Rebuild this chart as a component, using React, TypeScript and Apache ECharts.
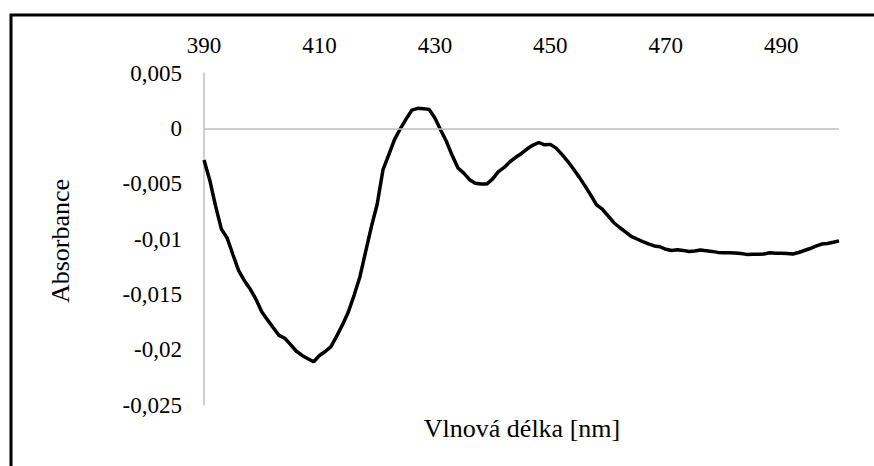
import React, { useEffect, useRef } from "react";
import * as echarts from "echarts";

const wavelengths: number[] = [];
for (let nm = 390; nm <= 500; nm++) wavelengths.push(nm);

const absorbance: number[] = [
  -0.00286, -0.00469, -0.00701, -0.00909, -0.0099, -0.0114, -0.01285, -0.01377, -0.01452, -0.01544,
  -0.01657, -0.01731, -0.01802, -0.01871, -0.01897, -0.01955, -0.02014, -0.02052, -0.02082, -0.02109,
  -0.02053, -0.02017, -0.01972, -0.01876, -0.01774, -0.0166, -0.01509, -0.01343, -0.01115, -0.00888,
  -0.00686, -0.00376, -0.0024, -0.00102, -0.00004, 0.00083, 0.00165, 0.00181, 0.00178, 0.0017,
  0.00093, -0.00015, -0.00119, -0.00246, -0.00358, -0.00405, -0.00464, -0.00496, -0.00503, -0.00503,
  -0.00457, -0.00391, -0.00353, -0.00302, -0.00262, -0.00227, -0.00185, -0.00151, -0.00128, -0.00149,
  -0.00145, -0.00179, -0.00235, -0.00298, -0.00368, -0.00441, -0.0052, -0.00604, -0.00691, -0.00731,
  -0.00791, -0.00853, -0.00896, -0.00935, -0.00976, -0.01, -0.01023, -0.01044, -0.01063, -0.0107,
  -0.01093, -0.01104, -0.01097, -0.01103, -0.01113, -0.01108, -0.011, -0.01106, -0.01112, -0.01121,
  -0.01124, -0.01124, -0.01126, -0.01132, -0.01139, -0.01138, -0.01137, -0.01135, -0.01125, -0.01129,
  -0.01128, -0.0113, -0.01135, -0.01122, -0.01104, -0.01086, -0.01065, -0.01046, -0.0104, -0.0103,
  -0.01017,
];

const yMin = -0.025;
const yMax = 0.005;
const yStep = 0.005;

const xTitle = "Vlnová délka [nm]";
const yTitle = "Absorbance";

const FONT = "Liberation Serif";

export default function App() {
  const ref = useRef<HTMLDivElement>(null);
  useEffect(() => {
    if (!ref.current) return;
    const chart = echarts.init(ref.current, null, { renderer: "svg" });
    chart.setOption({
      animation: false,
      backgroundColor: "#ffffff",
      textStyle: { fontFamily: FONT, color: "#000" },
      grid: { left: 204, right: 35, top: 73, bottom: 61 },
      xAxis: {
        type: "category",
        data: wavelengths.map(String),
        boundaryGap: false,
        position: "top",
        axisLine: { show: false, onZero: false },
        axisTick: { show: false },
        splitLine: { show: false },
        axisLabel: {
          interval: 19,
          color: "#000",
          fontFamily: FONT,
          fontSize: 23,
          margin: 16,
        },
      },
      yAxis: {
        type: "value",
        min: yMin,
        max: yMax,
        interval: yStep,
        axisLine: { show: true, lineStyle: { color: "#bfbfbf", width: 1.5 } },
        axisTick: { show: false },
        splitLine: { show: false },
        axisLabel: {
          color: "#000",
          fontFamily: FONT,
          fontSize: 23,
          margin: 22,
          formatter: (v: number) => String(Number(v.toFixed(4))).replace(".", ","),
        },
      },
      graphic: [
        {
          type: "rect",
          shape: { x: 11, y: 15, width: 900, height: 500 },
          style: { fill: "none", stroke: "#000", lineWidth: 3 },
          silent: true,
        },
        {
          type: "text",
          x: 60,
          y: 241,
          rotation: Math.PI / 2,
          style: {
            text: yTitle,
            fontFamily: FONT,
            fontSize: 26,
            fill: "#000",
            align: "center",
            verticalAlign: "middle",
          },
        },
        {
          type: "text",
          x: 522,
          y: 428,
          style: {
            text: xTitle,
            fontFamily: FONT,
            fontSize: 26,
            fill: "#000",
            align: "center",
            verticalAlign: "middle",
          },
        },
      ],
      series: [
        {
          type: "line",
          data: absorbance,
          showSymbol: false,
          symbol: "none",
          lineStyle: { color: "#000", width: 3.5 },
          markLine: {
            silent: true,
            symbol: "none",
            label: { show: false },
            lineStyle: { color: "#bfbfbf", width: 1.5, type: "solid" },
            data: [{ yAxis: 0 }],
          },
          z: 3,
        },
      ],
    });
    return () => chart.dispose();
  }, []);
  return (
    <div
      ref={ref}
      style={{ position: "fixed", left: 0, top: 0, width: 874, height: 466 }}
    />
  );
}
